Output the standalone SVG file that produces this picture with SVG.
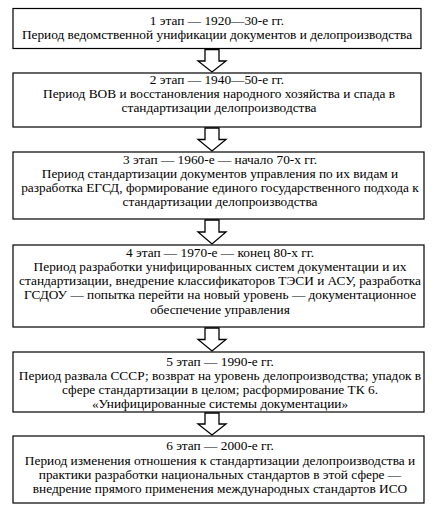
<svg xmlns="http://www.w3.org/2000/svg" width="440" height="521" viewBox="0 0 440 521">
<style>
rect.box{fill:#fff;stroke:#000;stroke-width:1.2}
path.arr{fill:#fff;stroke:#000;stroke-width:1.3;stroke-linejoin:miter}
text{font-family:"Liberation Serif","Times New Roman",serif;font-size:13.33px;fill:#000;text-anchor:middle}
</style>
<rect width="440" height="521" fill="#fff"/>
<g id="connectors">
<path class="arr" d="M205 49.5H219V61H226L212 72L198 61H205Z"/>
<path class="arr" d="M205 128H219V139.5H226L212 151L198 139.5H205Z"/>
<path class="arr" d="M205 220H219V232H226L212 244L198 232H205Z"/>
<path class="arr" d="M205 328H219V339.5H226L212 351L198 339.5H205Z"/>
<path class="arr" d="M205 413H219V424H226L212 435L198 424H205Z"/>
</g>
<g id="stage1">
<rect class="box" x="13" y="8.5" width="408" height="40"/>
<text x="217" y="24.5">1 этап — 1920—30-е гг.</text>
<text x="217" y="39">Период ведомственной унификации документов и делопроизводства</text>
</g>
<g id="stage2">
<rect class="box" x="13" y="73" width="408" height="54"/>
<text x="217" y="84">2 этап — 1940—50-е гг.</text>
<text x="219" y="98">Период ВОВ и восстановления народного хозяйства и спада в</text>
<text x="219" y="112">стандартизации делопроизводства</text>
</g>
<g id="stage3">
<rect class="box" x="13" y="152" width="411" height="67"/>
<text x="220" y="164">3 этап — 1960-е — начало 70-х гг.</text>
<text x="220" y="178">Период стандартизации документов управления по их видам и</text>
<text x="220" y="192">разработка ЕГСД, формирование единого государственного подхода к</text>
<text x="220" y="206">стандартизации делопроизводства</text>
</g>
<g id="stage4">
<rect class="box" x="13" y="245" width="411" height="82"/>
<text x="220" y="257">4 этап — 1970-е — конец 80-х гг.</text>
<text x="220" y="271">Период разработки унифицированных систем документации и их</text>
<text x="220" y="285">стандартизации, внедрение классификаторов ТЭСИ и АСУ, разработка</text>
<text x="220" y="299">ГСДОУ — попытка перейти на новый уровень — документационное</text>
<text x="220" y="313.5">обеспечение управления</text>
</g>
<g id="stage5">
<rect class="box" x="13" y="352" width="411" height="60"/>
<text x="220" y="366">5 этап — 1990-е гг.</text>
<text x="220" y="380">Период развала СССР; возврат на уровень делопроизводства; упадок в</text>
<text x="220" y="394">сфере стандартизации в целом; расформирование ТК 6.</text>
<text x="220" y="408">«Унифицированные системы документации»</text>
</g>
<g id="stage6">
<rect class="box" x="13" y="436" width="411" height="67"/>
<text x="220" y="450">6 этап — 2000-е гг.</text>
<text x="220" y="464.5">Период изменения отношения к стандартизации делопроизводства и</text>
<text x="220" y="479">практики разработки национальных стандартов в этой сфере —</text>
<text x="220" y="493">внедрение прямого применения международных стандартов ИСО</text>
</g>
</svg>
